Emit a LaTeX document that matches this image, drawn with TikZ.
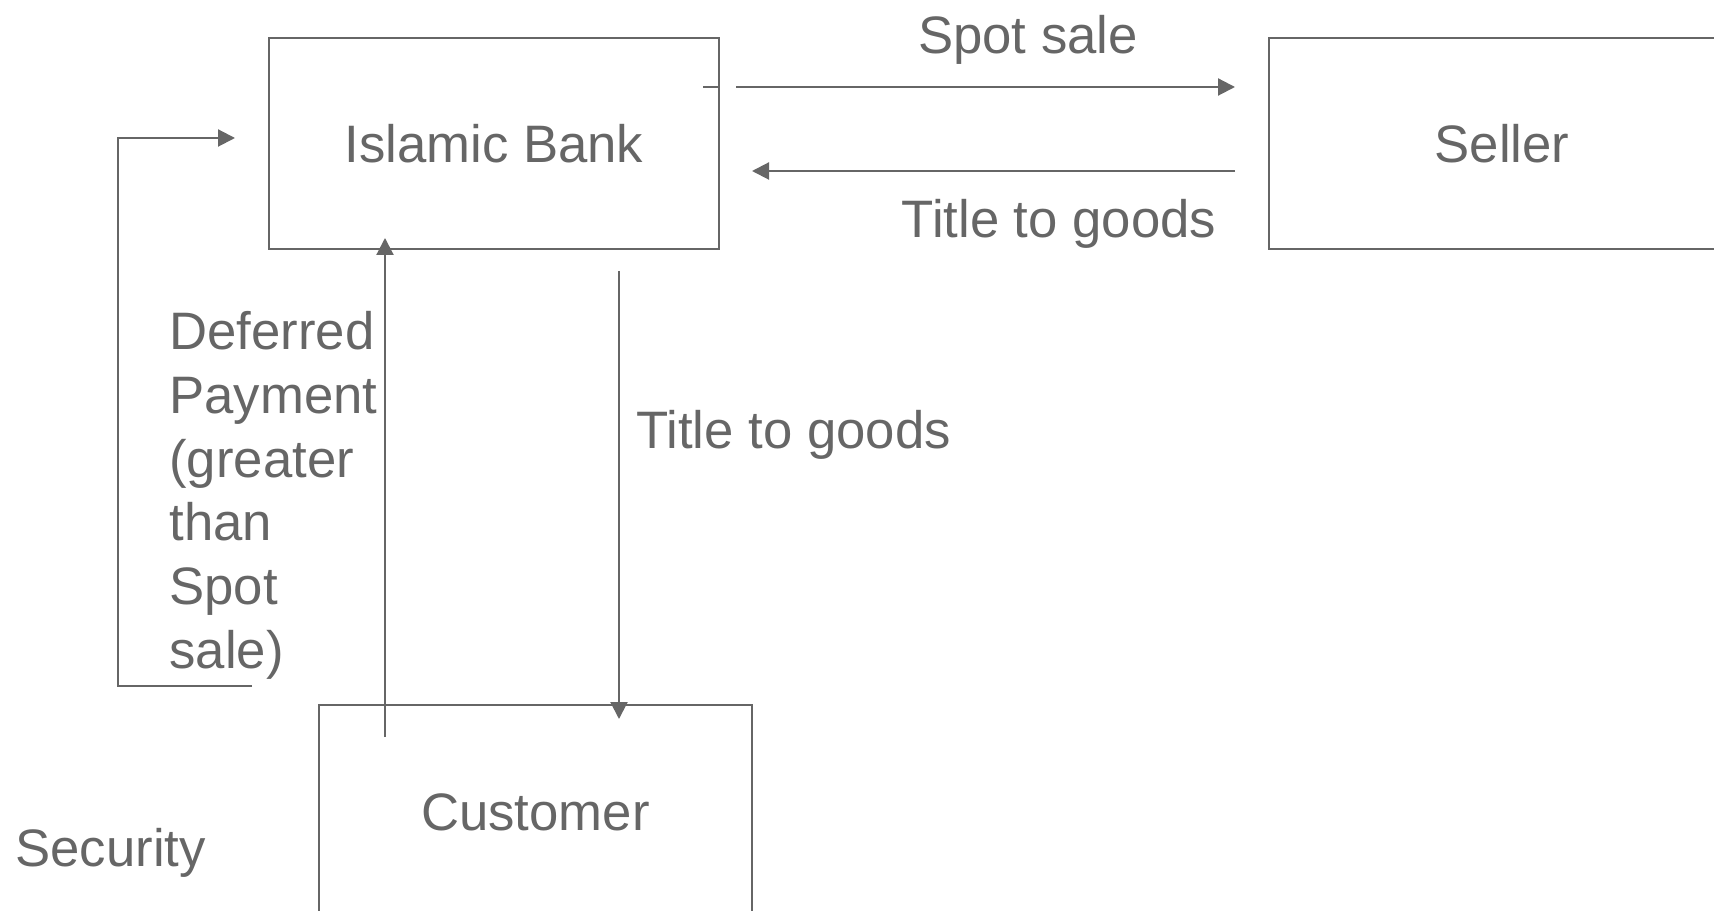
\documentclass[tikz,border=0pt]{standalone}
\usepackage{fontspec}
\setmainfont{Liberation Sans}
\usetikzlibrary{arrows.meta}
\definecolor{ink}{RGB}{102,102,102}
\newcommand{\bigfont}{\fontsize{30pt}{36.3pt}\selectfont}
\begin{document}
\begin{tikzpicture}[
  x=0.02cm, y=-0.02cm,
  party/.style={rectangle, draw, line width=1.2pt, minimum height=4.22cm},
  lbl/.style={inner sep=0, anchor=base},
  flow/.style={-{Triangle[length=0.34cm, width=0.34cm]}, line width=1.2pt},
  color=ink, font=\bigfont
]
\useasboundingbox (0,0) rectangle (1714,911);
\clip (0,0) rectangle (1714,911);

\node[party, minimum width=9cm] (bank) at (494,143.5) {Islamic Bank};
\node[party, minimum width=9.32cm] (seller) at (1502,143.5) {Seller};
\node[party, minimum width=8.66cm, minimum height=4.28cm] (customer) at (535.5,812) {Customer};

% Bank <-> Seller
\coordinate (sale-a) at (736,87);
\coordinate (sale-b) at (1235,87);
\coordinate (title-a) at (1235,171);
\coordinate (title-b) at (752,171);
\draw[line width=1.2pt] (703,87) -- (bank.east |- sale-a);
\draw[flow] (sale-a) -- (sale-b);
\draw[flow] (title-a) -- (title-b);
\node[lbl] (spot) at (1028,54) {Spot sale};
\node[lbl] (title1) at (1059,238) {Title to goods};

% Bank <-> Customer
\coordinate (pay-a) at (385,737);
\coordinate (pay-b) at (385,238);
\coordinate (goods-a) at (619,271);
\coordinate (goods-b) at (619,719);
\draw[flow] (pay-a) -- (pay-b);
\draw[flow] (goods-a) -- (goods-b);
\node[lbl, anchor=base west] (title2) at (636,449) {Title to goods};
\node[inner sep=0, anchor=north west, align=left] (deferred) at (169,311)
  {Deferred\\Payment\\(greater\\than\\Spot\\sale)};

% Security loop
\coordinate (sec-a) at (252,686);
\coordinate (sec-b) at (235,138);
\draw[flow] (sec-a) -| (118,138) -- (sec-b);
\node[lbl, anchor=base west] (security) at (15,866) {Security};
\end{tikzpicture}
\end{document}
